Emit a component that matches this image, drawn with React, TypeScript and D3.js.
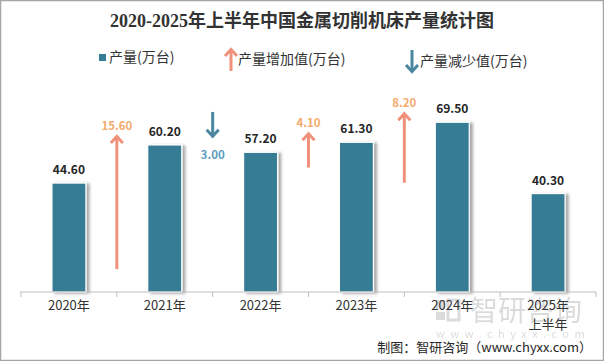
import React from 'react';
import * as d3 from 'd3';

const years = ['2020年', '2021年', '2022年', '2023年', '2024年', '2025年'];
const yearSub = ['', '', '', '', '', '上半年'];
const output = [44.6, 60.2, 57.2, 61.3, 69.5, 40.3];
// change between neighbours, drawn at the boundary between the two bars
const changes = [15.6, -3.0, 4.1, 8.2, -29.2];
const showChange = [true, true, true, true, false];

const W = 604;
const H = 361;
const baseY = 292;

const barColor = '#367B94';
const upColor = '#F0917B';
const upLabel = '#F5AA6C';
const downColor = '#4A87A0';
const downLabel = '#5A9BC0';

const App: React.FC = () => {
  const x = d3.scaleBand<string>().domain(years).range([21, 596]).padding(0);
  const y = d3.scaleLinear().domain([0, 80]).range([baseY, baseY - 195.4]);
  const arrowLen = d3.scaleLinear().domain([0, 10]).range([0, 86]);
  const barW = 34;

  const upArrow = (cx: number, top: number, bottom: number, color: string, key: string) => (
    <g key={key} stroke={color} strokeWidth={3} fill="none">
      <line x1={cx} y1={top + 1} x2={cx} y2={bottom} />
      <path d={`M${cx - 6},${top + 8} L${cx},${top + 1.5} L${cx + 6},${top + 8}`} />
    </g>
  );
  const downArrow = (cx: number, top: number, tip: number, color: string, key: string) => (
    <g key={key} stroke={color} strokeWidth={3} fill="none">
      <line x1={cx} y1={top} x2={cx} y2={tip - 1} />
      <path d={`M${cx - 6},${tip - 8} L${cx},${tip - 1.5} L${cx + 6},${tip - 8}`} />
    </g>
  );

  return (
    <svg width={W} height={H} style={{ position: 'absolute', left: 0, top: 0 }}
      fontFamily="'Noto Sans CJK SC', 'Noto Sans', sans-serif">
      <defs>
        <filter id="shadow" x="-30%" y="-10%" width="160%" height="120%">
          <feDropShadow dx={3} dy={1} stdDeviation={1.6} floodColor="#000" floodOpacity={0.35} />
        </filter>
      </defs>
      <rect x={0.5} y={0.5} width={W - 1} height={H - 1} fill="#fff" stroke="#A6A6A6" strokeWidth={1.5} />

      <text x={302} y={27} textAnchor="middle" fontSize={18} fontWeight="bold" fill="#333"
        fontFamily="'Liberation Serif', 'Noto Sans CJK SC', serif">
        2020-2025年上半年中国金属切削机床产量统计图
      </text>

      {/* legend */}
      <rect x={99} y={54} width={7} height={7} fill={barColor} />
      <text x={109} y={62} fontSize={14} fill="#333">产量(万台)</text>
      {upArrow(231, 48, 71, upColor, 'lg-up')}
      <text x={238} y={64} fontSize={14} fill="#333">产量增加值(万台)</text>
      {downArrow(412, 50, 73, downColor, 'lg-down')}
      <text x={420} y={66} fontSize={14} fill="#333">产量减少值(万台)</text>

      {/* bars */}
      {years.map((yr, i) => {
        const cx = (x(yr) as number) + x.bandwidth() / 2;
        return (
          <g key={yr}>
            <rect x={cx - barW / 2} y={y(output[i])} width={barW} height={baseY - y(output[i])}
              fill={barColor} stroke="#fff" strokeWidth={1.2} filter="url(#shadow)" />
            <text x={cx} y={y(output[i]) - 9} textAnchor="middle" fontSize={12} fontWeight="bold" fill="#262626">
              {output[i].toFixed(2)}
            </text>
          </g>
        );
      })}

      {/* change arrows */}
      {changes.map((c, i) => {
        if (!showChange[i]) return null;
        const bx = x(years[i + 1]) as number;
        const hi = Math.max(output[i], output[i + 1]);
        const len = arrowLen(Math.abs(c));
        if (c > 0) {
          const top = y(hi) - 10;
          return (
            <g key={'c' + i}>
              {upArrow(bx, top, top + len, upColor, 'a' + i)}
              <text x={bx} y={top - 5} textAnchor="middle" fontSize={11.5} fontWeight="bold" fill={upLabel}>
                {c.toFixed(2)}
              </text>
            </g>
          );
        }
        const top = y(hi) - 33;
        return (
          <g key={'c' + i}>
            {downArrow(bx, top, top + len, downColor, 'a' + i)}
            <text x={bx} y={top + len + 21} textAnchor="middle" fontSize={11.5} fontWeight="bold" fill={downLabel}>
              {Math.abs(c).toFixed(2)}
            </text>
          </g>
        );
      })}

      {/* x axis */}
      <line x1={20} x2={596} y1={baseY} y2={baseY} stroke="#BFBFBF" strokeWidth={1} />
      {[...years.map((yr) => x(yr) as number), 596].map((t, i) => (
        <line key={'t' + i} x1={t} x2={t} y1={baseY} y2={baseY + 5} stroke="#BFBFBF" strokeWidth={1} />
      ))}

      {/* watermark */}
      <g opacity={0.35} fill="#9A9A9A">
        <rect x={436} y={300} width={9} height={9} />
        <rect x={448} y={300} width={11} height={20} fill="none" stroke="#9A9A9A" strokeWidth={3} />
        <rect x={436} y={312} width={9} height={8} />
        <text x={470} y={321} fontSize={28}>智研咨询</text>
        <text x={436} y={338} fontSize={11} letterSpacing={5.5}>www.chyxx.com</text>
      </g>

      {years.map((yr, i) => {
        const cx = (x(yr) as number) + x.bandwidth() / 2;
        return (
          <g key={'l' + yr} fontSize={13} fill="#333">
            <text x={cx} y={310} textAnchor="middle">{yr}</text>
            {yearSub[i] && <text x={cx} y={329} textAnchor="middle">{yearSub[i]}</text>}
          </g>
        );
      })}
      <text x={592} y={352} textAnchor="end" fontSize={13} fill="#262626">制图：智研咨询（www.chyxx.com）</text>
    </svg>
  );
};

export default App;
